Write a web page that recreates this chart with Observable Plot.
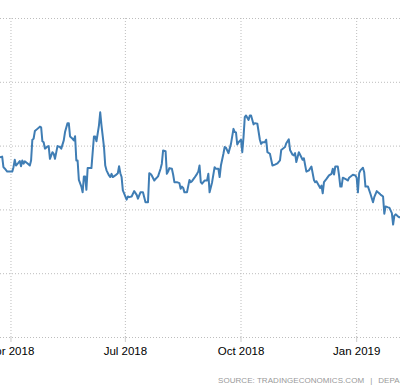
<!DOCTYPE html>
<html>
<head>
<meta charset="utf-8">
<script src="https://cdn.jsdelivr.net/npm/d3@7"></script>
<script src="https://cdn.jsdelivr.net/npm/@observablehq/plot@0.6"></script>
<style>
  html, body { margin: 0; padding: 0; background: #fff; }
  #chart svg { display: block; }
  .source { height: 22px; line-height: 22px; padding-left: 218px; white-space: nowrap; overflow: hidden;
            font-family: "Liberation Sans", Arial, sans-serif; font-size: 8px; letter-spacing: 0.05px; color: #999; width: 400px; box-sizing: border-box; }
  .source .sep { margin: 0 6px; }
</style>
</head>
<body>
<div id="chart"></div>
<div class="source">SOURCE: TRADINGECONOMICS.COM<span class="sep">|</span>DEPARTMENT OF THE TREASURY</div>
<script>
const dates = [
"2018-03-23","2018-03-25","2018-03-26","2018-03-27","2018-03-29","2018-04-02","2018-04-03","2018-04-04","2018-04-05","2018-04-07",
"2018-04-08","2018-04-09","2018-04-10","2018-04-11","2018-04-12","2018-04-14","2018-04-16","2018-04-17","2018-04-18","2018-04-19",
"2018-04-20","2018-04-22","2018-04-24","2018-04-25","2018-04-26","2018-04-27","2018-04-28","2018-04-29","2018-04-30","2018-05-01",
"2018-05-02","2018-05-04","2018-05-05","2018-05-06","2018-05-08","2018-05-10","2018-05-11","2018-05-13","2018-05-14","2018-05-16",
"2018-05-17","2018-05-18","2018-05-20","2018-05-21","2018-05-22","2018-05-23","2018-05-24","2018-05-25","2018-05-27","2018-05-28",
"2018-05-29","2018-05-30","2018-05-31","2018-06-01","2018-06-04","2018-06-06","2018-06-07","2018-06-08","2018-06-10","2018-06-11",
"2018-06-12","2018-06-14","2018-06-15","2018-06-16","2018-06-18","2018-06-19","2018-06-20","2018-06-21","2018-06-23","2018-06-25",
"2018-06-26","2018-06-27","2018-06-28","2018-06-29","2018-06-30","2018-07-02","2018-07-03","2018-07-04","2018-07-06","2018-07-08",
"2018-07-10","2018-07-11","2018-07-13","2018-07-15","2018-07-17","2018-07-19","2018-07-20","2018-07-21","2018-07-22","2018-07-24",
"2018-07-25","2018-07-27","2018-07-29","2018-07-30","2018-07-31","2018-08-02","2018-08-03","2018-08-04","2018-08-05","2018-08-07",
"2018-08-08","2018-08-09","2018-08-11","2018-08-13","2018-08-14","2018-08-15","2018-08-16","2018-08-17","2018-08-19","2018-08-21",
"2018-08-22","2018-08-23","2018-08-25","2018-08-27","2018-08-28","2018-08-29","2018-08-30","2018-08-31","2018-09-02","2018-09-04",
"2018-09-05","2018-09-06","2018-09-08","2018-09-10","2018-09-11","2018-09-13","2018-09-14","2018-09-15","2018-09-17","2018-09-18",
"2018-09-19","2018-09-21","2018-09-23","2018-09-25","2018-09-26","2018-09-27","2018-09-28","2018-09-29","2018-10-01","2018-10-02",
"2018-10-03","2018-10-04","2018-10-05","2018-10-07","2018-10-08","2018-10-09","2018-10-11","2018-10-12","2018-10-14","2018-10-16",
"2018-10-17","2018-10-18","2018-10-20","2018-10-21","2018-10-22","2018-10-24","2018-10-26","2018-10-28","2018-10-30","2018-11-01",
"2018-11-02","2018-11-05","2018-11-06","2018-11-08","2018-11-09","2018-11-11","2018-11-12","2018-11-13","2018-11-14","2018-11-16",
"2018-11-18","2018-11-19","2018-11-20","2018-11-22","2018-11-24","2018-11-26","2018-11-28","2018-11-29","2018-11-30","2018-12-02",
"2018-12-03","2018-12-04","2018-12-05","2018-12-06","2018-12-08","2018-12-10","2018-12-12","2018-12-13","2018-12-14","2018-12-15",
"2018-12-17","2018-12-18","2018-12-19","2018-12-20","2018-12-21","2018-12-24","2018-12-25","2018-12-26","2018-12-29","2018-12-31",
"2019-01-01","2019-01-02","2019-01-03","2019-01-04","2019-01-06","2019-01-07","2019-01-08","2019-01-10","2019-01-12","2019-01-14",
"2019-01-15","2019-01-17","2019-01-18","2019-01-20","2019-01-22","2019-01-23","2019-01-24","2019-01-26","2019-01-27","2019-01-29",
"2019-01-30","2019-01-31","2019-02-01","2019-02-03","2019-02-04","2019-02-05"
];
const values = [
2.565,2.567,2.534,2.530,2.520,2.520,2.534,2.557,2.539,2.548,
2.553,2.537,2.555,2.545,2.552,2.546,2.539,2.555,2.620,2.623,
2.647,2.654,2.661,2.659,2.615,2.612,2.592,2.595,2.599,2.600,
2.560,2.581,2.576,2.560,2.600,2.597,2.592,2.618,2.644,2.672,
2.672,2.630,2.623,2.618,2.631,2.555,2.555,2.494,2.473,2.455,
2.505,2.505,2.463,2.531,2.531,2.630,2.630,2.615,2.665,2.706,
2.665,2.597,2.539,2.524,2.508,2.503,2.513,2.503,2.508,2.515,
2.537,2.515,2.503,2.461,2.452,2.432,2.442,2.440,2.442,2.459,
2.447,2.435,2.455,2.455,2.424,2.424,2.515,2.513,2.508,2.492,
2.497,2.505,2.529,2.545,2.586,2.584,2.513,2.520,2.531,2.529,
2.511,2.487,2.487,2.484,2.466,2.473,2.469,2.455,2.455,2.494,
2.487,2.490,2.501,2.513,2.520,2.539,2.487,2.482,2.492,2.492,
2.513,2.455,2.487,2.534,2.529,2.529,2.503,2.539,2.576,2.597,
2.595,2.578,2.607,2.654,2.644,2.643,2.605,2.612,2.620,2.581,
2.628,2.691,2.696,2.682,2.696,2.696,2.668,2.672,2.670,2.620,
2.607,2.612,2.612,2.620,2.581,2.576,2.539,2.542,2.546,2.555,
2.588,2.597,2.609,2.621,2.588,2.573,2.571,2.578,2.550,2.581,
2.565,2.557,2.562,2.520,2.524,2.536,2.494,2.487,2.490,2.476,
2.469,2.476,2.452,2.487,2.497,2.508,2.513,2.529,2.511,2.536,
2.536,2.508,2.473,2.473,2.501,2.495,2.492,2.501,2.510,2.508,
2.501,2.455,2.515,2.524,2.532,2.518,2.473,2.473,2.450,2.424,
2.440,2.459,2.455,2.448,2.442,2.388,2.411,2.408,2.407,2.390,
2.354,2.382,2.386,2.379,2.377,2.377
];
const xTicks = ["2018-04-01","2018-07-01","2018-10-01","2019-01-01"];
const yTicks = [2.0, 2.2, 2.4, 2.6, 2.8, 3.0];

const data = dates.map((d, i) => ({date: new Date(d), value: values[i]}));
const xt = xTicks.map(d => new Date(d));
const fmt = d3.utcFormat("%b %Y");

const chart = Plot.plot({
  width: 400,
  height: 370,
  marginLeft: 0,
  marginRight: 0,
  marginTop: 18,
  marginBottom: 33,
  style: {fontFamily: "'Liberation Sans', Arial, sans-serif", fontSize: "11.5px", color: "#000", background: "#fff"},
  x: {type: "utc", domain: [new Date("2018-03-23T16:00Z"), new Date("2019-02-04T21:00Z")]},
  y: {domain: [2.0, 3.0], axis: null},
  marks: [
    Plot.ruleY(yTicks, {stroke: "#bdbdbd", strokeDasharray: "1,2", strokeWidth: 1}),
    Plot.ruleX(xt, {y1: 2.0, y2: 3.0, stroke: "#bdbdbd", strokeDasharray: "1,2", strokeWidth: 1}),
    Plot.axisX({ticks: xt, tickFormat: fmt, tickSize: 5, tickPadding: 4, stroke: "#ccc", fill: "#000", strokeOpacity: 1}),
    Plot.line(data, {x: "date", y: "value", stroke: "#3f7db4", strokeWidth: 2, clip: true})
  ]
});
document.getElementById("chart").appendChild(chart);
</script>
</body>
</html>
